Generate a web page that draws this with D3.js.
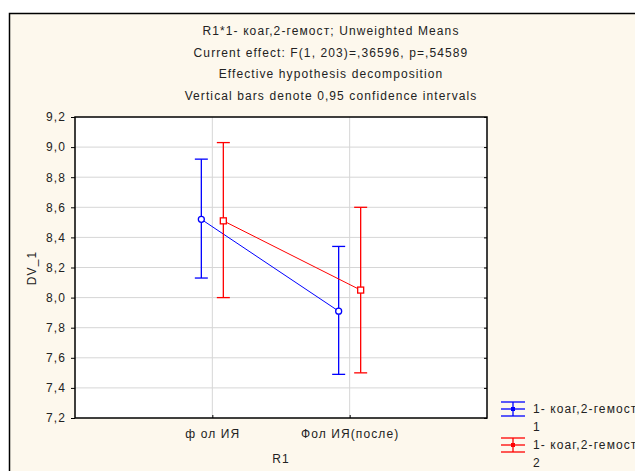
<!doctype html>
<html>
<head>
<meta charset="utf-8">
<script src="https://cdnjs.cloudflare.com/ajax/libs/d3/7.8.5/d3.min.js"></script>
<style>
  body { margin: 0; background: #fff; }
  svg text { font-family: "Liberation Sans", Arial, sans-serif; fill: #222; font-size: 12px; letter-spacing: 1.1px; }
</style>
</head>
<body>
<svg id="chart" width="635" height="471"></svg>
<script>
// data
var categories = ["ф ол ИЯ", "Фол ИЯ(после)"];
var seriesNames = ["1- коаг,2-гемост", "1- коаг,2-гемост"];
var seriesCodes = ["1", "2"];
var blueMean = [8.52, 7.91];
var blueLow = [8.13, 7.49];
var blueHigh = [8.92, 8.34];
var redMean = [8.51, 8.05];
var redLow = [8.00, 7.50];
var redHigh = [9.03, 8.60];
var yTicks = [7.2, 7.4, 7.6, 7.8, 8.0, 8.2, 8.4, 8.6, 8.8, 9.0, 9.2];
var titleLines = [
  "R1*1- коаг,2-гемост; Unweighted Means",
  "Current effect: F(1, 203)=,36596, p=,54589",
  "Effective hypothesis decomposition",
  "Vertical bars denote 0,95 confidence intervals"
];

var svg = d3.select("#chart");

// outer frame
svg.append("rect").attr("x", 9.5).attr("y", 13.5).attr("width", 640).attr("height", 480)
  .attr("fill", "#fdf8ed").attr("stroke", "#000").attr("stroke-width", 1.5);

var pL = 75, pT = 117, pR = 487, pB = 418;

var y = d3.scaleLinear().domain([7.2, 9.2]).range([pB, pT]);
var x = d3.scalePoint().domain(categories).range([pL, pR]).padding(1);

var fmt = function(v) { return d3.format(".1f")(v).replace(".", ","); };

// plot background
svg.append("rect").attr("x", pL).attr("y", pT).attr("width", pR - pL).attr("height", pB - pT)
  .attr("fill", "#fff");

// grid
svg.append("g").selectAll("line").data(yTicks.slice(1, -1)).enter().append("line")
  .attr("x1", pL).attr("x2", pR).attr("y1", d => y(d)).attr("y2", d => y(d))
  .attr("stroke", "#d6d6d6").attr("stroke-width", 1);
svg.append("g").selectAll("line").data(categories).enter().append("line")
  .attr("x1", d => x(d)).attr("x2", d => x(d)).attr("y1", pT).attr("y2", pB)
  .attr("stroke", "#d6d6d6").attr("stroke-width", 1);

// axes
var yAxis = svg.append("g").attr("transform", "translate(" + pL + ",0)")
  .call(d3.axisLeft(y).tickValues(yTicks).tickFormat(fmt).tickSize(4).tickPadding(5));
yAxis.select(".domain").remove();
yAxis.selectAll("text").attr("font-size", null).attr("font-family", null).attr("fill", "#222");
yAxis.selectAll("line").attr("stroke", "#000");

var yAxisR = svg.append("g").attr("transform", "translate(" + pR + ",0)")
  .call(d3.axisLeft(y).tickValues(yTicks).tickFormat("").tickSize(3));
yAxisR.select(".domain").remove();

var xAxis = svg.append("g").attr("transform", "translate(0," + pB + ")")
  .call(d3.axisBottom(x).tickSize(-3).tickPadding(11));
xAxis.select(".domain").remove();
xAxis.selectAll("text").attr("font-size", null).attr("font-family", null).attr("fill", "#222");

svg.append("rect").attr("x", pL).attr("y", pT).attr("width", pR - pL).attr("height", pB - pT)
  .attr("fill", "none").attr("stroke", "#000").attr("stroke-width", 1.5);

// titles
svg.append("g").selectAll("text").data(titleLines).enter().append("text")
  .attr("x", 331).attr("y", (d, i) => 35 + i * 21.5)
  .attr("text-anchor", "middle").text(d => d);

svg.append("text").attr("x", 281).attr("y", 463).attr("text-anchor", "middle").text("R1");
svg.append("text").attr("transform", "translate(36,268) rotate(-90)").attr("text-anchor", "middle")
  .text("DV_1");

// series
var series = [
  { color: "#0000ff", mean: blueMean, lo: blueLow, hi: blueHigh, dx: -11, shape: "circle" },
  { color: "#ff0000", mean: redMean, lo: redLow, hi: redHigh, dx: 11, shape: "square" }
];

series.forEach(function(s) {
  var g = svg.append("g");
  var pts = categories.map((c, i) => ({ x: x(c) + s.dx, m: s.mean[i], lo: s.lo[i], hi: s.hi[i] }));
  g.append("path").datum(pts)
    .attr("d", d3.line().x(d => d.x).y(d => y(d.m)))
    .attr("fill", "none").attr("stroke", s.color).attr("stroke-width", 1);
  pts.forEach(function(p) {
    g.append("line").attr("x1", p.x).attr("x2", p.x).attr("y1", y(p.lo)).attr("y2", y(p.hi))
      .attr("stroke", s.color).attr("stroke-width", 1.3);
    [p.lo, p.hi].forEach(function(v) {
      g.append("line").attr("x1", p.x - 6.5).attr("x2", p.x + 6.5).attr("y1", y(v)).attr("y2", y(v))
        .attr("stroke", s.color).attr("stroke-width", 1.3);
    });
    if (s.shape === "circle") {
      g.append("circle").attr("cx", p.x).attr("cy", y(p.m)).attr("r", 3)
        .attr("fill", "#fff").attr("stroke", s.color).attr("stroke-width", 1.3);
    } else {
      g.append("rect").attr("x", p.x - 3).attr("y", y(p.m) - 3).attr("width", 6).attr("height", 6)
        .attr("fill", "#fff").attr("stroke", s.color).attr("stroke-width", 1.3);
    }
  });
});

// legend
series.forEach(function(s, i) {
  var cy = 409 + i * 36;
  var g = svg.append("g");
  [-7, 0, 7].forEach(function(o) {
    g.append("line").attr("x1", 501).attr("x2", 525).attr("y1", cy + o).attr("y2", cy + o)
      .attr("stroke", s.color).attr("stroke-width", 1.3);
  });
  g.append("line").attr("x1", 513).attr("x2", 513).attr("y1", cy - 7).attr("y2", cy + 7)
    .attr("stroke", s.color).attr("stroke-width", 1.3);
  g.append("rect").attr("x", 511).attr("y", cy - 2).attr("width", 4).attr("height", 4)
    .attr("fill", s.color);
  g.append("text").attr("x", 533).attr("y", cy + 4).text(seriesNames[i]);
  g.append("text").attr("x", 533).attr("y", cy + 22).text(seriesCodes[i]);
});
</script>
</body>
</html>
